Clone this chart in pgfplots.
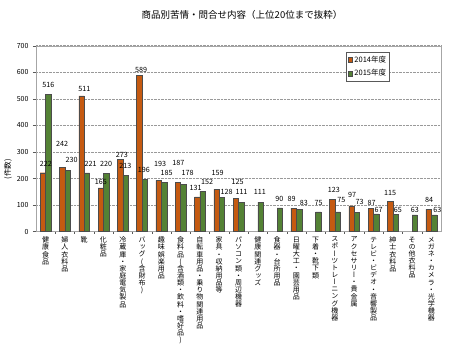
\documentclass[border=0pt]{standalone}
\usepackage{fontspec}
\setmainfont{Noto Sans CJK JP}
\newfontfamily\tatefont[RawFeature=+vert]{Noto Sans CJK JP}
\usepackage{pgfplots}
\usepackage{pgfplotstable}
\pgfplotsset{compat=1.18}
\definecolor{c14}{RGB}{197,90,17}
\definecolor{c15}{RGB}{84,130,53}
\newcommand\tate[1]{\vbox{\baselineskip=7.15pt\lineskiplimit=-100pt\lineskip=0pt\tateloop#1\relax}}
\def\tateloop#1{\ifx#1\relax\else\hbox to 1em{\hss#1\hss}\expandafter\tateloop\fi}
\pgfplotstableread{
x y dx dy
0 222 2.9 4.7
1 242 0 19.4
2 511 2.9 2.9
3 165 0 2.5
4 273 1.7 0.5
5 589 1.7 1.5
6 193 1.4 12.4
7 187 0.4 15
8 131 -1.5 5.5
9 159 1.2 12.5
10 125 1.9 12.5
13 89 -2 5.1
15 123 1.7 5
16 97 0.7 6.9
17 87 0.8 2.2
18 115 0 4.2
20 84 0.5 5.4
}\tA
\pgfplotstableread{
x y dx dy
0 516 0 5.9
1 230 4 6.9
2 221 3.7 5
3 220 0 5.2
4 213 0 5.7
5 196 -0.9 5.9
6 185 2.5 5.5
7 178 4.2 7.4
8 152 4.5 5.3
9 128 4.6 1.7
10 111 0.3 6.2
11 111 -0.7 6.2
12 90 -0.3 4.8
13 83 4.7 3.2
14 75 0.4 5.4
15 75 3.8 7.8
16 73 2.8 6.9
17 67 2.5 -0.1
18 65 2.5 0.4
19 63 0 1
20 63 3.3 1
}\tB
\begin{document}
\begin{tikzpicture}
\path[use as bounding box] (0,0) rectangle (450pt,350pt);
\node[font=\fontsize{9.5}{11}\selectfont] at (242pt,335pt) {商品別苦情・問合せ内容（上位20位まで抜粋）};
\begin{axis}[
  at={(36pt,118.3pt)}, anchor=south west,
  scale only axis, width=405pt, height=186pt,
  ybar=0pt, bar width=0.28,
  xmin=-0.5, xmax=20.5, ymin=0, ymax=700,
  ytick={0,100,...,700},
  xtick={0,...,20},
  minor xtick={0.5,1.5,...,19.5},
  major x tick style={draw=none},
  minor tick length=2pt, major tick length=3pt,
  tick align=outside, tick pos=left,
  tick style={gray!70!black, line width=0.4pt},
  axis line style={gray!70},
  ymajorgrids, grid style={densely dotted, gray!80, line width=0.5pt},
  /pgf/number format/assume math mode=true,
  yticklabel style={font=\fontsize{7}{8}\selectfont, xshift=-1pt},
  xticklabel style={font=\tatefont\fontsize{7}{7.15}\selectfont, anchor=north, yshift=-1pt, inner sep=1pt},
  xticklabels={
    \tate{健康食品},
    \tate{婦人衣料品},
    \tate{靴},
    \tate{化粧品},
    \tate{冷蔵庫・家庭電気製品},
    \tate{バッグ(含財布)},
    \tate{趣味娯楽用品},
    \tate{食料品(含酒類・飲料・嗜好品)},
    \tate{自転車用品・乗り物関連用品},
    \tate{家具・収納用品等},
    \tate{パソコン類・周辺機器},
    \tate{健康関連グッズ},
    \tate{食器・台所用品},
    \tate{日曜大工・園芸用品},
    \tate{下着・靴下類},
    \tate{スポーツトレーニング機器},
    \tate{アクセサリー・貴金属},
    \tate{テレビ・ビデオ・音響製品},
    \tate{紳士衣料品},
    \tate{その他衣料品},
    \tate{メガネ・カメラ・光学機器}},
  ylabel={(件数)},
  ylabel style={at={(axis description cs:-0.069,0.337)}, anchor=center, font=\fontsize{7.5}{8}\selectfont},
  nodes near coords,
  nodes near coords style={font=\fontsize{7.2}{8}\selectfont, inner sep=1pt, text=black},
  visualization depends on={\thisrow{dx}\as\dx},
  visualization depends on={\thisrow{dy}\as\dy},
  every node near coord/.append style={xshift=\dx pt, yshift=\dy pt},
  legend style={at={(rel axis cs:0.765,0.966)}, anchor=north west, draw=gray!70!black,
    font=\fontsize{7.5}{8}\selectfont, inner sep=1.5pt, row sep=2pt, cells={anchor=west}},
  legend image code/.code={\draw[#1, line width=0.3pt] (0pt,-2.3pt) rectangle (4.6pt,2.3pt);},
]
\addplot[fill=c14, draw=black!70, line width=0.4pt] table[x=x,y=y] {\tA};
\addplot[fill=c15, draw=black!70, line width=0.4pt] table[x=x,y=y] {\tB};
\legend{2014年度,2015年度}
\end{axis}
\end{tikzpicture}
\end{document}
